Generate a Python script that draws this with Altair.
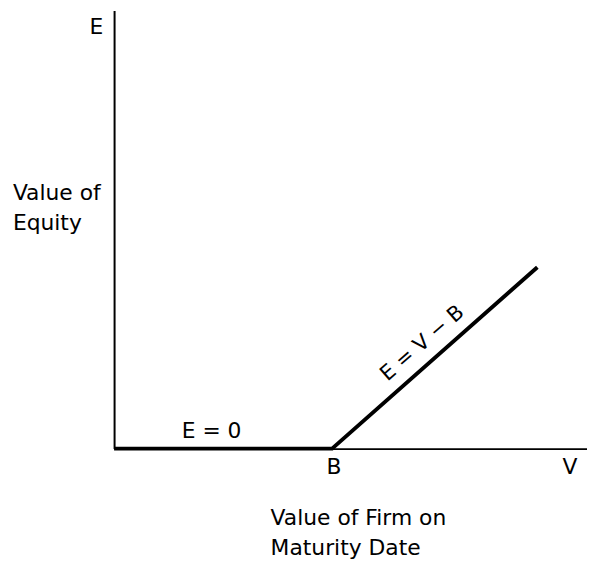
import altair as alt
import pandas as pd

# Payoff line (value of equity at maturity)
firm_value = [0, 46.1, 89.5]
equity_value = [0, 0, 41.4]

# Text labels
label_text = ["E", "Value of", "Equity", "E = 0", "B", "V", "Value of Firm on", "Maturity Date"]
label_x = [-2.3, -21.4, -21.4, 14.3, 46.5, 96.4, 33.1, 33.1]
label_y = [94.6, 56.8, 49.8, 2.5, -5.7, -5.7, -17.4, -24.2]
label_align = ["right", "left", "left", "left", "center", "center", "left", "left"]

slope_text = ["E = V − B"]
slope_x = [65.2]
slope_y = [24.0]

line_df = pd.DataFrame({"V": firm_value, "E": equity_value})
lab_df = pd.DataFrame({"t": label_text, "x": label_x, "y": label_y, "a": label_align})
slope_df = pd.DataFrame({"t": slope_text, "x": slope_x, "y": slope_y})

xs = alt.Scale(domain=[0, 100], nice=False, zero=False)
ys = alt.Scale(domain=[0, 100], nice=False, zero=False)

x_axis = alt.Axis(title=None, labels=False, ticks=False, grid=False, domain=True,
                  domainColor="black", domainWidth=2)
y_axis = alt.Axis(title=None, labels=False, ticks=False, grid=False, domain=True,
                  domainColor="black", domainWidth=2)

payoff = alt.Chart(line_df).mark_line(color="black", strokeWidth=4, strokeCap="butt").encode(
    x=alt.X("V:Q", scale=xs, axis=x_axis),
    y=alt.Y("E:Q", scale=ys, axis=y_axis),
)

FONT = "DejaVu Sans"
FS = 22

def text_layer(df, align):
    return alt.Chart(df).mark_text(
        font=FONT, fontSize=FS, color="black", align=align, baseline="alphabetic", clip=False
    ).encode(x=alt.X("x:Q", scale=xs), y=alt.Y("y:Q", scale=ys), text="t:N")

labels_left = text_layer(lab_df[lab_df.a == "left"], "left")
labels_center = text_layer(lab_df[lab_df.a == "center"], "center")
labels_right = text_layer(lab_df[lab_df.a == "right"], "right")

slope_label = alt.Chart(slope_df).mark_text(
    font=FONT, fontSize=21, color="black", align="center", baseline="middle", angle=319
).encode(x=alt.X("x:Q", scale=xs), y=alt.Y("y:Q", scale=ys), text="t:N")

chart = alt.layer(payoff, labels_left, labels_center, labels_right, slope_label).properties(
    width=477,
    height=442,
    background="white",
    autosize=alt.AutoSizeParams(type="none"),
    padding={"left": 107, "top": 0, "right": 0, "bottom": 121},
).configure_view(stroke=None)

chart.save("out.html", embed_options={"renderer": "svg", "actions": False})
